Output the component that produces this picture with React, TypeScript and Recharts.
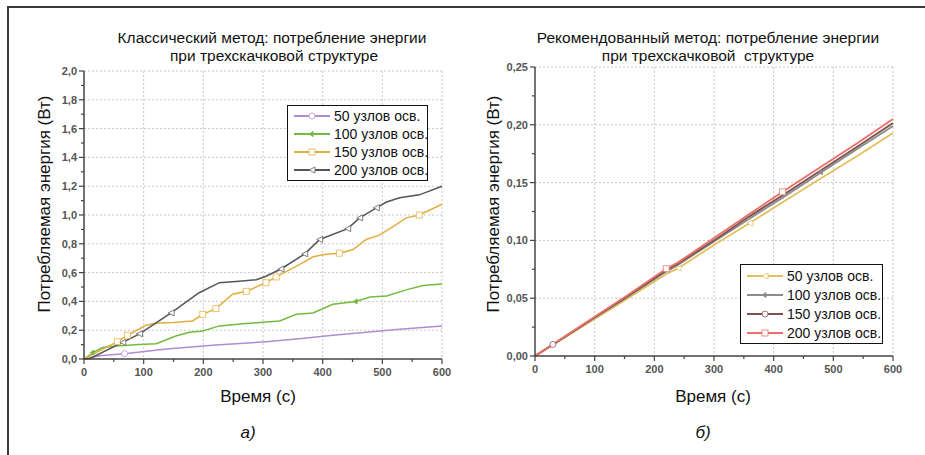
import React from 'react';
import { LineChart, Line, XAxis, YAxis, CartesianGrid, Legend } from 'recharts';

const FONT = '"Liberation Sans", Arial, sans-serif';

// --- left chart: classic method ---
const t50a = [0, 26, 68, 138, 221, 305, 361, 417, 473, 529, 600];
const e50a = [0, 0.023, 0.037, 0.07, 0.097, 0.12, 0.14, 0.165, 0.185, 0.207, 0.23];
const m50a = [68];

const t100a = [0, 15, 31, 54, 93, 121, 154, 177, 199, 227, 266, 305, 328, 356, 384, 417, 456, 479, 507, 540, 568, 600];
const e100a = [0, 0.045, 0.08, 0.09, 0.1, 0.106, 0.16, 0.185, 0.195, 0.23, 0.245, 0.257, 0.264, 0.31, 0.32, 0.38, 0.4, 0.43, 0.437, 0.48, 0.51, 0.52];
const m100a = [15, 456];

const t150a = [0, 26, 56, 73, 93, 104, 121, 149, 182, 199, 221, 249, 272, 305, 322, 361, 384, 403, 428, 451, 473, 495, 518, 540, 562, 600];
const e150a = [0, 0.057, 0.12, 0.165, 0.21, 0.235, 0.248, 0.253, 0.264, 0.31, 0.35, 0.45, 0.47, 0.53, 0.57, 0.655, 0.71, 0.725, 0.735, 0.76, 0.83, 0.86, 0.92, 0.98, 1.0, 1.075];
const m150a = [56, 73, 199, 221, 272, 305, 322, 428, 562];

const t200a = [0, 10, 65, 93, 146, 193, 227, 260, 289, 305, 330, 370, 395, 442, 462, 490, 507, 529, 562, 600];
const e200a = [0, 0.004, 0.115, 0.175, 0.32, 0.46, 0.53, 0.54, 0.55, 0.575, 0.625, 0.73, 0.83, 0.905, 0.98, 1.05, 1.09, 1.12, 1.14, 1.2];
const m200a = [65, 93, 146, 330, 370, 395, 442, 462, 490];

// --- right chart: recommended method ---
const tB = [0, 30, 100, 150, 220, 240, 300, 360, 415, 480, 540, 600];
const e50b = [0, 0.0095, 0.032, 0.048, 0.071, 0.076, 0.096, 0.115, 0.133, 0.154, 0.173, 0.193];
const e100b = [0, 0.0098, 0.033, 0.0495, 0.073, 0.079, 0.099, 0.119, 0.137, 0.159, 0.179, 0.199];
const e150b = [0, 0.01, 0.0335, 0.05, 0.074, 0.08, 0.1, 0.121, 0.139, 0.161, 0.181, 0.2015];
const e200b = [0, 0.0102, 0.034, 0.0508, 0.0755, 0.081, 0.102, 0.123, 0.142, 0.164, 0.184, 0.205];
const m50b = [240, 360];
const m100b = [480];
const m150b = [30];
const m200b = [220, 415];

const nodeCounts = [50, 100, 150, 200];

const xTicks = [0, 50, 100, 150, 200, 250, 300, 350, 400, 450, 500, 550, 600];
const xGrid = [100, 200, 300, 400, 500, 600];
const yTicksA = [0, 0.1, 0.2, 0.3, 0.4, 0.5, 0.6, 0.7, 0.8, 0.9, 1.0, 1.1, 1.2, 1.3, 1.4, 1.5, 1.6, 1.7, 1.8, 1.9, 2.0];
const yGridA = [0.2, 0.4, 0.6, 0.8, 1.0, 1.2, 1.4, 1.6, 1.8, 2.0];
const yTicksB = [0, 0.025, 0.05, 0.075, 0.1, 0.125, 0.15, 0.175, 0.2, 0.225, 0.25];
const yGridB = [0.05, 0.1, 0.15, 0.2, 0.25];

type Shape = 'circle' | 'square' | 'triangle' | 'star';
interface Series { name: string; color: string; shape: Shape; data: { t: number; e: number }[]; marks: number[]; width: number; }

const zip = (t: number[], e: number[]) => t.map((v, i) => ({ t: v, e: e[i] }));

const seriesA: Series[] = [
  { name: `${nodeCounts[0]} узлов осв.`, color: '#b18ccf', shape: 'circle', data: zip(t50a, e50a), marks: m50a, width: 1.5 },
  { name: `${nodeCounts[1]} узлов осв.`, color: '#72bb3e', shape: 'star', data: zip(t100a, e100a), marks: m100a, width: 1.5 },
  { name: `${nodeCounts[2]} узлов осв.`, color: '#e2ae3e', shape: 'square', data: zip(t150a, e150a), marks: m150a, width: 1.5 },
  { name: `${nodeCounts[3]} узлов осв.`, color: '#555555', shape: 'triangle', data: zip(t200a, e200a), marks: m200a, width: 1.5 },
];

const seriesB: Series[] = [
  { name: `${nodeCounts[0]} узлов осв.`, color: '#e2c05a', shape: 'triangle', data: zip(tB, e50b), marks: m50b, width: 1.8 },
  { name: `${nodeCounts[1]} узлов осв.`, color: '#8c8c8c', shape: 'star', data: zip(tB, e100b), marks: m100b, width: 1.8 },
  { name: `${nodeCounts[2]} узлов осв.`, color: '#7e5050', shape: 'circle', data: zip(tB, e150b), marks: m150b, width: 1.8 },
  { name: `${nodeCounts[3]} узлов осв.`, color: '#ea6f66', shape: 'square', data: zip(tB, e200b), marks: m200b, width: 1.8 },
];

function shapeEl(shape: Shape, cx: number, cy: number, color: string) {
  const s = 3;
  const common = { fill: '#fff', stroke: color, strokeWidth: 1, strokeOpacity: 0.75 };
  if (shape === 'circle') return <circle cx={cx} cy={cy} r={s} {...common} />;
  if (shape === 'square') return <rect x={cx - s} y={cy - s} width={s * 2} height={s * 2} {...common} />;
  if (shape === 'triangle')
    return <polygon points={`${cx - s},${cy} ${cx + s},${cy - s} ${cx + s},${cy + s}`} {...common} />;
  return <polygon points={`${cx - 2.5},${cy} ${cx + 1},${cy - 2.5} ${cx + 1},${cy + 2.5}`} fill={color} stroke={color} strokeWidth={1} />;
}

function markerDot(s: Series) {
  return (props: any) => {
    const { cx, cy, payload, index } = props;
    if (cx == null || !s.marks.includes(payload.t)) return <g key={index} />;
    return <g key={index}>{shapeEl(s.shape, cx, cy, s.color)}</g>;
  };
}

const isMajor = (v: number, step: number) => Math.abs(v / step - Math.round(v / step)) < 1e-6;

function makeXTick() {
  return (props: any) => {
    const { x, y, payload } = props;
    const v = payload.value;
    const major = isMajor(v, 100);
    return (
      <g>
        <line x1={x} x2={x} y1={y} y2={y + (major ? 5 : 3)} stroke="#444" strokeWidth={1.2} />
        {major && (
          <text x={x} y={y + 17} textAnchor="middle" fontSize={11} fontWeight="bold" fill="#555" fontFamily={FONT}>{v}</text>
        )}
      </g>
    );
  };
}

function makeYTick(step: number, digits: number) {
  return (props: any) => {
    const { x, y, payload } = props;
    const v = payload.value;
    const major = isMajor(v, step);
    return (
      <g>
        <line x1={x} x2={x - (major ? 5 : 3)} y1={y} y2={y} stroke="#444" strokeWidth={1.2} />
        {major && (
          <text x={x - 7} y={y + 4} textAnchor="end" fontSize={11} fontWeight="bold" fill="#555" fontFamily={FONT}>
            {v.toFixed(digits).replace('.', ',')}
          </text>
        )}
      </g>
    );
  };
}

function LegendBox({ items, width, rowH }: { items: Series[]; width: number; rowH: number }) {
  return (
    <div style={{ border: '1.5px solid #111', background: '#fff', width, padding: '1px 0 1px 6px', boxSizing: 'border-box', fontFamily: FONT }}>
      {items.map(it => (
        <div key={it.name} style={{ display: 'flex', alignItems: 'center', height: rowH, fontSize: 14, color: '#111' }}>
          <svg width={36} height={10} style={{ flex: 'none' }}>
            <line x1={0} x2={36} y1={5} y2={5} stroke={it.color} strokeWidth={2} />
            {shapeEl(it.shape, 18, 5, it.color)}
          </svg>
          <span style={{ marginLeft: 4, whiteSpace: 'nowrap' }}>{it.name}</span>
        </div>
      ))}
    </div>
  );
}

function Panel({ series, width, margin, yDomain, yTicks, yGrid, yStep, digits, legendPos, legendW, rowH }: {
  series: Series[]; width: number; margin: { top: number; right: number; bottom: number; left: number };
  yDomain: [number, number]; yTicks: number[]; yGrid: number[]; yStep: number; digits: number;
  legendPos: { left: number; top: number }; legendW: number; rowH: number;
}) {
  return (
    <LineChart width={width} height={455} margin={margin}>
      <CartesianGrid stroke="#c8c8c8" strokeDasharray="2 2" verticalValues={xGrid} horizontalValues={yGrid} />
      <XAxis dataKey="t" type="number" domain={[0, 600]} ticks={xTicks} interval={0} height={30}
        axisLine={{ stroke: '#444', strokeWidth: 1.5 }} tickLine={false} tickSize={0} tickMargin={0} tick={makeXTick()} />
      <YAxis type="number" domain={yDomain} ticks={yTicks} interval={0} width={40}
        axisLine={{ stroke: '#444', strokeWidth: 1.5 }} tickLine={false} tickSize={0} tickMargin={0} tick={makeYTick(yStep, digits)} />
      <Legend layout="vertical" align="center" verticalAlign="middle"
        wrapperStyle={{ left: legendPos.left, top: legendPos.top, width: 'auto' }}
        content={() => <LegendBox items={series} width={legendW} rowH={rowH} />} />
      {series.map(s => (
        <Line key={s.name} data={s.data} dataKey="e" name={s.name} type="linear" stroke={s.color}
          strokeWidth={s.width} dot={markerDot(s)} activeDot={false} isAnimationActive={false} />
      ))}
    </LineChart>
  );
}

export default function App() {
  const txt = { fontFamily: FONT, fill: '#111' };
  return (
    <div style={{ position: 'absolute', left: 0, top: 0, width: 925, height: 455, background: '#fff', overflow: 'hidden' }}>
      <div style={{ position: 'absolute', left: 7, top: 6, width: 925, height: 455, borderTop: '2px solid #3a3a3a', borderLeft: '2px solid #3a3a3a' }} />
      <div style={{ position: 'absolute', left: 0, top: 0 }}>
        <Panel series={seriesA} width={460} margin={{ top: 71, right: 18, bottom: 66, left: 44 }}
          yDomain={[0, 2]} yTicks={yTicksA} yGrid={yGridA} yStep={0.2} digits={1}
          legendPos={{ left: 287, top: 105 }} legendW={141} rowH={18} />
      </div>
      <div style={{ position: 'absolute', left: 460, top: 0 }}>
        <Panel series={seriesB} width={465} margin={{ top: 67, right: 32, bottom: 69, left: 35 }}
          yDomain={[0, 0.25]} yTicks={yTicksB} yGrid={yGridB} yStep={0.05} digits={2}
          legendPos={{ left: 280, top: 264 }} legendW={143} rowH={19} />
      </div>
      <svg width={925} height={455} style={{ position: 'absolute', left: 0, top: 0, pointerEvents: 'none' }}>
        <g style={txt} fontSize={15.5} textAnchor="middle">
          <text x={272} y={43}>Классический метод: потребление энергии</text>
          <text x={274} y={61}>при трехскачковой структуре</text>
          <text x={708} y={43}>Рекомендованный метод: потребление энергии</text>
          <text x={708} y={61} style={{ whiteSpace: 'pre' }}>при трехскачковой  структуре</text>
        </g>
        <g style={txt} fontSize={17} textAnchor="middle">
          <text transform="translate(50,204) rotate(-90)">Потребляемая энергия (Вт)</text>
          <text transform="translate(499,204) rotate(-90)">Потребляемая энергия (Вт)</text>
          <text x={258} y={402}>Время (с)</text>
          <text x={713} y={402}>Время (с)</text>
          <text x={248} y={438} fontStyle="italic">а)</text>
          <text x={703} y={438} fontStyle="italic">б)</text>
        </g>
      </svg>
    </div>
  );
}
